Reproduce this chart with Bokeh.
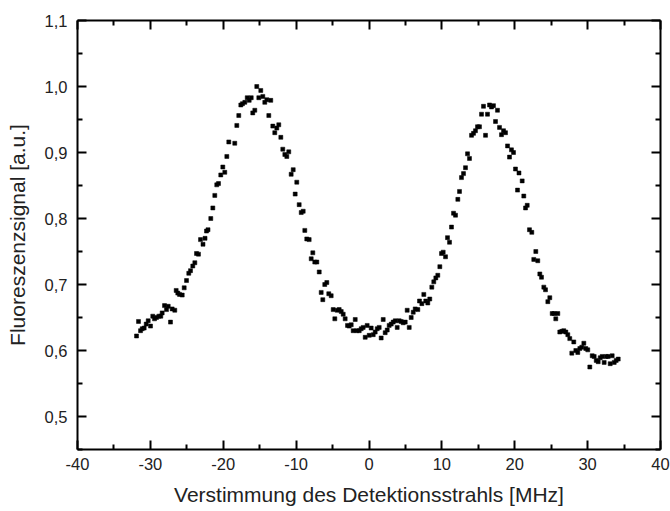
from bokeh.plotting import figure
from bokeh.models import Range1d, LinearAxis, FixedTicker, ColumnDataSource
from bokeh.embed import file_html
from bokeh.resources import INLINE

# Detuning of the detection beam [MHz]
x_mhz = [
    -31.90, -31.63, -31.35, -31.12, -30.85, -30.57, -30.30, -29.98, -29.67, -29.43,
    -29.16, -28.84, -28.57, -28.38, -28.06, -27.79, -27.55, -27.24, -27.01, -26.65,
    -26.46, -26.24, -26.00, -25.63, -25.36, -25.04, -24.73, -24.49, -24.18, -23.90,
    -23.67, -23.40, -23.12, -22.78, -22.50, -22.30, -22.09, -21.71, -21.43, -21.16,
    -20.89, -20.65, -20.34, -20.06, -19.79, -19.51, -19.24, -18.42, -18.14, -17.87,
    -17.59, -17.36, -17.04, -16.71, -16.44, -16.16, -15.95, -15.67, -15.40, -15.12,
    -14.85, -14.57, -14.30, -14.02, -13.75, -13.48, -13.20, -12.93, -12.65, -12.38,
    -12.10, -11.83, -11.55, -11.28, -11.01, -10.68, -10.40, -10.13, -9.91, -9.58,
    -9.30, -9.03, -8.81, -8.54, -8.21, -7.93, -7.71, -7.44, -7.16, -6.83,
    -6.56, -6.34, -6.07, -5.79, -5.52, -5.19, -4.91, -4.69, -4.36, -4.09,
    -3.81, -3.54, -3.27, -2.95, -2.72, -2.44, -2.17, -1.89, -1.67, -1.34,
    -1.07, -0.80, -0.52, -0.25, 0.03, 0.30, 0.58, 0.85, 1.13, 1.40,
    1.67, 1.95, 2.22, 2.50, 2.77, 3.05, 3.32, 3.60, 3.87, 4.14,
    4.42, 4.69, 4.97, 5.24, 5.52, 5.79, 6.07, 6.34, 6.70, 6.93,
    7.25, 7.52, 7.79, 8.07, 8.34, 8.62, 8.89, 9.17, 9.44, 9.72,
    9.95, 10.18, 10.50, 10.77, 11.05, 11.32, 11.60, 11.87, 12.19, 12.42,
    12.69, 12.97, 13.24, 13.52, 13.79, 14.07, 14.34, 14.61, 14.89, 15.16,
    15.44, 15.71, 15.99, 16.26, 16.54, 16.81, 17.08, 17.36, 17.63, 17.91,
    18.18, 18.46, 18.73, 19.01, 19.28, 19.55, 19.83, 20.10, 20.38, 20.58,
    21.02, 21.24, 21.48, 21.71, 22.02, 22.34, 22.61, 22.89, 23.16, 23.44,
    23.67, 23.99, 24.22, 24.54, 24.81, 25.14, 25.41, 25.63, 25.91, 26.18,
    26.46, 26.73, 27.01, 27.28, 27.55, 27.83, 28.10, 28.38, 28.65, 28.93,
    29.20, 29.48, 29.75, 30.02, 30.30, 30.63, 30.90, 31.18, 31.45, 31.73,
    32.00, 32.27, 32.55, 32.82, 33.10, 33.37, 33.65, 33.92, 34.20,
]

# Fluorescence signal [a.u.]
signal = [
    0.622, 0.644, 0.630, 0.633, 0.634, 0.640, 0.645, 0.637, 0.652, 0.648,
    0.650, 0.652, 0.652, 0.657, 0.668, 0.662, 0.667, 0.643, 0.663, 0.661,
    0.691, 0.687, 0.685, 0.684, 0.695, 0.706, 0.717, 0.721, 0.728, 0.733,
    0.747, 0.746, 0.768, 0.761, 0.770, 0.781, 0.783, 0.800, 0.816, 0.835,
    0.851, 0.853, 0.866, 0.878, 0.870, 0.894, 0.916, 0.914, 0.941, 0.956,
    0.972, 0.974, 0.976, 0.983, 0.979, 0.983, 0.960, 0.964, 1.000, 0.983,
    0.994, 0.985, 0.976, 0.980, 0.956, 0.979, 0.940, 0.930, 0.937, 0.942,
    0.923, 0.905, 0.897, 0.894, 0.901, 0.867, 0.874, 0.837, 0.855, 0.821,
    0.809, 0.811, 0.782, 0.769, 0.768, 0.739, 0.748, 0.734, 0.734, 0.719,
    0.688, 0.677, 0.700, 0.703, 0.686, 0.683, 0.662, 0.648, 0.661, 0.662,
    0.659, 0.655, 0.648, 0.638, 0.637, 0.639, 0.630, 0.647, 0.630, 0.630,
    0.633, 0.635, 0.620, 0.638, 0.623, 0.634, 0.624, 0.628, 0.633, 0.635,
    0.619, 0.647, 0.627, 0.631, 0.638, 0.640, 0.643, 0.645, 0.635, 0.645,
    0.644, 0.642, 0.643, 0.661, 0.635, 0.650, 0.658, 0.663, 0.662, 0.675,
    0.671, 0.685, 0.675, 0.672, 0.678, 0.696, 0.704, 0.710, 0.714, 0.727,
    0.747, 0.749, 0.742, 0.771, 0.764, 0.787, 0.808, 0.805, 0.829, 0.841,
    0.862, 0.868, 0.877, 0.898, 0.891, 0.926, 0.929, 0.933, 0.939, 0.939,
    0.958, 0.970, 0.926, 0.958, 0.972, 0.969, 0.971, 0.947, 0.964, 0.938,
    0.927, 0.933, 0.930, 0.910, 0.893, 0.904, 0.900, 0.875, 0.843, 0.869,
    0.857, 0.834, 0.816, 0.820, 0.783, 0.779, 0.738, 0.750, 0.736, 0.716,
    0.711, 0.696, 0.692, 0.674, 0.680, 0.656, 0.656, 0.648, 0.656, 0.628,
    0.629, 0.630, 0.628, 0.624, 0.618, 0.596, 0.613, 0.600, 0.597, 0.603,
    0.605, 0.611, 0.603, 0.601, 0.575, 0.592, 0.591, 0.585, 0.583, 0.589,
    0.591, 0.582, 0.591, 0.591, 0.580, 0.592, 0.582, 0.585, 0.587,
]

x_ticks = [-40, -30, -20, -10, 0, 10, 20, 30, 40]
x_tick_labels = ["-40", "-30", "-20", "-10", "0", "10", "20", "30", "40"]
x_minor = [-35, -25, -15, -5, 5, 15, 25, 35]
y_ticks = [0.5, 0.6, 0.7, 0.8, 0.9, 1.0, 1.1]
y_minor = [0.45, 0.55, 0.65, 0.75, 0.85, 0.95, 1.05]
y_tick_labels = ["0,5", "0,6", "0,7", "0,8", "0,9", "1,0", "1,1"]

FONT = "Liberation Sans"

p = figure(
    width=670, height=511,
    x_range=Range1d(-40, 40), y_range=Range1d(0.45, 1.1),
    output_backend="svg", toolbar_location=None,
    x_axis_location=None, y_axis_location=None,
    min_border_left=77, min_border_right=10,
    min_border_top=20, min_border_bottom=62,
)
p.background_fill_color = "white"
p.border_fill_color = "white"
p.outline_line_color = None
p.xgrid.visible = False
p.ygrid.visible = False


def style_axis(ax, show_labels):
    ax.axis_line_width = 2
    ax.axis_line_color = "black"
    ax.major_tick_in = 9
    ax.major_tick_out = 0
    ax.minor_tick_in = 5
    ax.minor_tick_out = 0
    ax.major_tick_line_width = 2
    ax.minor_tick_line_width = 2
    ax.major_tick_line_color = "black"
    ax.minor_tick_line_color = "black"
    if show_labels:
        ax.major_label_text_font = FONT
        ax.major_label_text_font_size = "16.5px"
        ax.major_label_text_color = "#222222"
        ax.axis_label_text_font = FONT
        ax.axis_label_text_font_size = "21px"
        ax.axis_label_text_font_style = "normal"
        ax.axis_label_text_color = "#222222"
    else:
        ax.major_label_standoff = 0
        ax.major_label_text_font_size = "1px"


xt = FixedTicker(ticks=x_ticks, minor_ticks=x_minor)
yt = FixedTicker(ticks=y_ticks, minor_ticks=y_minor)
x_overrides = {t: lab for t, lab in zip(x_ticks, x_tick_labels)}
y_overrides = {t: lab for t, lab in zip(y_ticks, y_tick_labels)}

xb = LinearAxis(ticker=xt, axis_label="Verstimmung des Detektionsstrahls [MHz]")
style_axis(xb, True)
xb.major_label_overrides = x_overrides
xb.major_label_standoff = 8
xb.axis_label_standoff = 10
p.add_layout(xb, "below")

yl = LinearAxis(ticker=yt, axis_label="Fluoreszenzsignal [a.u.]")
style_axis(yl, True)
yl.major_label_overrides = y_overrides
yl.major_label_standoff = 10
yl.axis_label_standoff = 13
p.add_layout(yl, "left")

xtop = LinearAxis(ticker=xt)
style_axis(xtop, False)
xtop.major_label_overrides = {t: "" for t in x_ticks}
p.add_layout(xtop, "above")

yr = LinearAxis(ticker=yt)
style_axis(yr, False)
yr.major_label_overrides = {t: "" for t in y_ticks}
p.add_layout(yr, "right")

src = ColumnDataSource(data=dict(x=x_mhz, y=signal))
p.scatter("x", "y", source=src, marker="square", size=4,
          fill_color="black", line_color="black", line_width=0.5)

open("out.html", "w").write(file_html(p, INLINE))
